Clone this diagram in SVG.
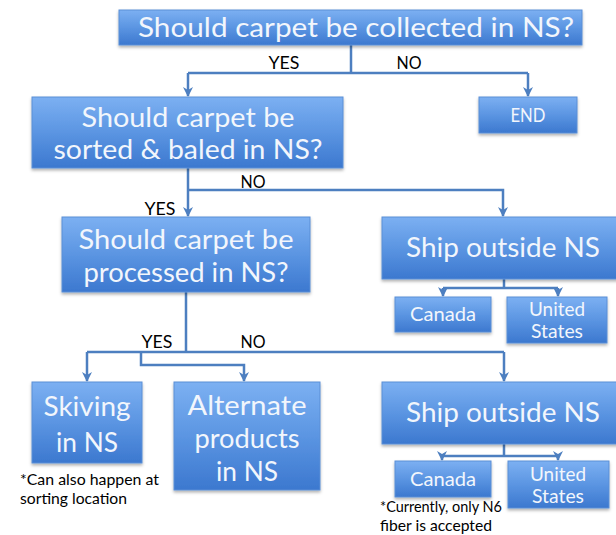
<svg xmlns="http://www.w3.org/2000/svg" width="616" height="535" viewBox="0 0 616 535">
<defs>
<linearGradient id="g" x1="0" y1="0" x2="0" y2="1">
<stop offset="0" stop-color="#7cb0f2"/>
<stop offset="0.5" stop-color="#5b95e2"/>
<stop offset="1" stop-color="#3c78cf"/>
</linearGradient>
<filter id="sh" x="-10%" y="-10%" width="120%" height="130%">
<feDropShadow dx="0" dy="2" stdDeviation="1.5" flood-color="#000" flood-opacity="0.3"/>
</filter>
<marker id="ar" viewBox="0 0 10 10" refX="9" refY="5" markerWidth="4" markerHeight="4" orient="auto">
<path d="M0,0 L10,5 L0,10 L3,5 Z" fill="#4d7fc0"/>
</marker>
</defs>
<style>
.box{fill:url(#g);stroke:#5b8fd6;stroke-width:1;filter:url(#sh)}
.t{font-family:Lato,"Open Sans",sans-serif;fill:#f2f6fc;text-anchor:middle}
.big{font-size:26px}
.sm{font-size:19px}
.lbl{font-family:Lato,"Open Sans",sans-serif;font-size:17px;fill:#000;text-anchor:middle}
.note{font-family:Lato,"Open Sans",sans-serif;font-size:15px;fill:#000}
.c{fill:none;stroke:#4d7fc0;stroke-width:2.5}
.a{marker-end:url(#ar)}
</style>
<rect width="616" height="535" fill="#fff"/>
<g id="connectors">
<path class="c" d="M351,45 V73 M188,73 H528"/>
<path class="c a" d="M188,73 V96"/>
<path class="c a" d="M528,73 V96"/>
<path class="c a" d="M188,168 V216"/>
<path class="c a" d="M188,190 H503 V216"/>
<path class="c" d="M504,279 V288 M443,288 H558"/>
<path class="c a" d="M443,288 V296"/>
<path class="c a" d="M558,288 V296"/>
<path class="c" d="M186,292 V352 M87,352 H504"/>
<path class="c a" d="M87,352 V381"/>
<path class="c a" d="M504,352 V381"/>
<path class="c a" d="M141,352 V365 H244 V381"/>
<path class="c" d="M504,444 V456 M442,456 H558"/>
<path class="c a" d="M442,456 V460"/>
<path class="c a" d="M558,456 V460"/>
<text class="lbl" x="284" y="69" textLength="31" lengthAdjust="spacingAndGlyphs">YES</text>
<text class="lbl" x="409" y="69" textLength="25" lengthAdjust="spacingAndGlyphs">NO</text>
<text class="lbl" x="253" y="188" textLength="25" lengthAdjust="spacingAndGlyphs">NO</text>
<text class="lbl" x="160" y="215" textLength="31" lengthAdjust="spacingAndGlyphs">YES</text>
<text class="lbl" x="157" y="348" textLength="31" lengthAdjust="spacingAndGlyphs">YES</text>
<text class="lbl" x="253" y="348" textLength="25" lengthAdjust="spacingAndGlyphs">NO</text>
</g>
<g id="q1">
<rect class="box" x="119" y="10" width="463" height="35"/>
<text class="t big" x="356" y="37" textLength="436" lengthAdjust="spacingAndGlyphs">Should carpet be collected in NS?</text>
</g>
<g id="end">
<rect class="box" x="479" y="97" width="98" height="36"/>
<text class="t sm" x="528" y="122" textLength="35" lengthAdjust="spacingAndGlyphs">END</text>
</g>
<g id="q2">
<rect class="box" x="32" y="97" width="311" height="71"/>
<text class="t big" x="188" y="127" textLength="213" lengthAdjust="spacingAndGlyphs">Should carpet be</text>
<text class="t big" x="188" y="159" textLength="269" lengthAdjust="spacingAndGlyphs">sorted &amp; baled in NS?</text>
</g>
<g id="q3">
<rect class="box" x="62" y="217" width="248" height="75"/>
<text class="t big" x="186" y="249" textLength="215" lengthAdjust="spacingAndGlyphs">Should carpet be</text>
<text class="t big" x="186" y="282" textLength="205" lengthAdjust="spacingAndGlyphs">processed in NS?</text>
</g>
<g id="ship1">
<rect class="box" x="382" y="217" width="240" height="62"/>
<text class="t big" x="503" y="257" textLength="194" lengthAdjust="spacingAndGlyphs">Ship outside NS</text>
</g>
<g id="canada1">
<rect class="box" x="395" y="297" width="96" height="35"/>
<text class="t sm" x="443" y="321" textLength="66" lengthAdjust="spacingAndGlyphs">Canada</text>
</g>
<g id="us1">
<rect class="box" x="507" y="297" width="100" height="46"/>
<text class="t sm" x="557" y="316" textLength="56" lengthAdjust="spacingAndGlyphs">United</text>
<text class="t sm" x="557" y="338" textLength="52" lengthAdjust="spacingAndGlyphs">States</text>
</g>
<g id="skiving">
<rect class="box" x="32" y="382" width="110" height="81"/>
<text class="t big" x="87" y="416" textLength="87" lengthAdjust="spacingAndGlyphs">Skiving</text>
<text class="t big" x="87" y="452" textLength="62" lengthAdjust="spacingAndGlyphs">in NS</text>
<text class="note" x="20" y="485" textLength="139" lengthAdjust="spacingAndGlyphs">*Can also happen at</text>
<text class="note" x="20" y="504" textLength="107" lengthAdjust="spacingAndGlyphs">sorting location</text>
</g>
<g id="alternate">
<rect class="box" x="174" y="382" width="146" height="108"/>
<text class="t big" x="247" y="415" textLength="119" lengthAdjust="spacingAndGlyphs">Alternate</text>
<text class="t big" x="247" y="448" textLength="105" lengthAdjust="spacingAndGlyphs">products</text>
<text class="t big" x="247" y="481" textLength="62" lengthAdjust="spacingAndGlyphs">in NS</text>
</g>
<g id="ship2">
<rect class="box" x="382" y="382" width="240" height="62"/>
<text class="t big" x="503" y="422" textLength="194" lengthAdjust="spacingAndGlyphs">Ship outside NS</text>
</g>
<g id="canada2">
<rect class="box" x="395" y="461" width="96" height="36"/>
<text class="t sm" x="443" y="486" textLength="66" lengthAdjust="spacingAndGlyphs">Canada</text>
<text class="note" x="380" y="512" textLength="122" lengthAdjust="spacingAndGlyphs">*Currently, only N6</text>
<text class="note" x="380" y="531" textLength="112" lengthAdjust="spacingAndGlyphs">fiber is accepted</text>
</g>
<g id="us2">
<rect class="box" x="508" y="461" width="101" height="47"/>
<text class="t sm" x="558" y="481" textLength="56" lengthAdjust="spacingAndGlyphs">United</text>
<text class="t sm" x="558" y="503" textLength="52" lengthAdjust="spacingAndGlyphs">States</text>
</g>
</svg>
